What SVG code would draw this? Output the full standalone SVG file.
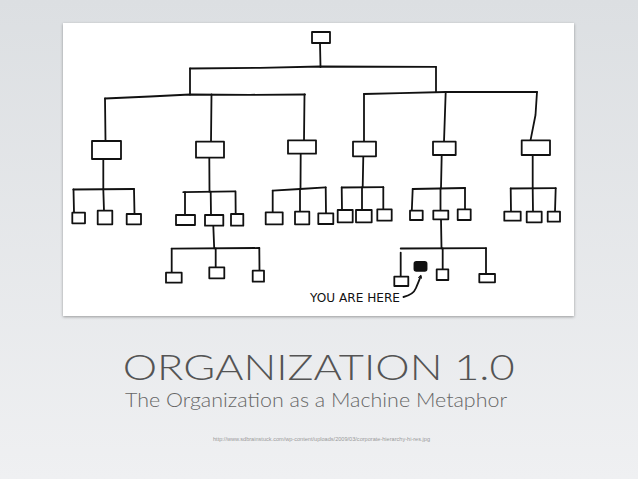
<svg xmlns="http://www.w3.org/2000/svg" width="638" height="479" viewBox="0 0 638 479">
<defs>
<linearGradient id="bg" x1="0" y1="0" x2="0" y2="1">
<stop offset="0" stop-color="#dcdfe2"/>
<stop offset="1" stop-color="#eff0f2"/>
</linearGradient>
<filter id="sh" x="-5%" y="-5%" width="110%" height="110%">
<feDropShadow dx="0" dy="1" stdDeviation="1.5" flood-color="#000" flood-opacity="0.35"/>
</filter>
<marker id="ah" viewBox="0 0 10 10" refX="5" refY="5" markerWidth="5" markerHeight="5" orient="auto-start-reverse" markerUnits="userSpaceOnUse">
<path d="M1,1 L8,5 L1,9" fill="none" stroke="#111" stroke-width="1.6"/>
</marker>
<style>
.ln{fill:none;stroke:#111;stroke-width:1.8;stroke-linecap:round;stroke-linejoin:round}
.bx{fill:#fff;stroke:#111;stroke-width:1.8;stroke-linejoin:round}
.fl{fill:#111;stroke:#111;stroke-width:1.5}
.ttl{font-family:Lato,"Open Sans","Liberation Sans",sans-serif;font-weight:300}
</style>
</defs>
<rect width="638" height="479" fill="url(#bg)"/>
<rect x="63" y="23" width="511" height="293" fill="#fff" filter="url(#sh)"/>

<g id="connectors">
<path class="ln" d="M320,43 L320.5,67"/>
<path class="ln" d="M190,68.5 L260,67.8 L320,66.5 L436,66.8"/>
<path class="ln" d="M190,68.5 L190,94.5"/>
<path class="ln" d="M436,67 L436,92"/>
<path class="ln" d="M105,98.5 L150,96.5 L190,94.5 L250,94.8 L305,94.5"/>
<path class="ln" d="M105,98.5 L105.5,141"/>
<path class="ln" d="M211.5,94.5 L211,141.7"/>
<path class="ln" d="M304.5,94.5 L304,140.3"/>
<path class="ln" d="M364,94 L400,93.2 L445.5,92 L537,92"/>
<path class="ln" d="M364,94 L364,141.7"/>
<path class="ln" d="M445.7,92 L444,141.7"/>
<path class="ln" d="M537,92 L535.5,115 L530.5,140.3"/>

<path class="ln" d="M103.3,159 L103.3,189.3"/>
<path class="ln" d="M73.3,189.5 L134,189"/>
<path class="ln" d="M73.5,189.5 L74,212.7"/>
<path class="ln" d="M103.3,189.3 L104,210.7"/>
<path class="ln" d="M134,189 L134.5,214"/>

<path class="ln" d="M209.3,157.7 L209.5,191.7"/>
<path class="ln" d="M183.3,192.2 L235,191.3"/>
<path class="ln" d="M185,192.2 L185,215"/>
<path class="ln" d="M210.7,191.7 L211,215"/>
<path class="ln" d="M235.5,191.3 L235.7,214"/>
<path class="ln" d="M213.3,225.7 L214.2,248.3"/>
<path class="ln" d="M171.7,248.6 L259.3,248"/>
<path class="ln" d="M171.7,248.6 L171.7,272.7"/>
<path class="ln" d="M215.7,248.3 L215.7,267.3"/>
<path class="ln" d="M259.3,248 L259.5,270.7"/>

<path class="ln" d="M300.7,153.7 L300.5,189"/>
<path class="ln" d="M272.7,190.7 L300,189 L325.7,187.3"/>
<path class="ln" d="M272.7,190.7 L272.7,212.3"/>
<path class="ln" d="M300,189 L300,211.7"/>
<path class="ln" d="M325.7,187.3 L326,213.3"/>

<path class="ln" d="M363.3,156.3 L362.7,187.3"/>
<path class="ln" d="M341.7,187.5 L383.3,187.2"/>
<path class="ln" d="M341.7,187.5 L342,210"/>
<path class="ln" d="M362,187.3 L362,210"/>
<path class="ln" d="M383.3,187.2 L383.3,209.3"/>

<path class="ln" d="M441.7,155 L441,188.3"/>
<path class="ln" d="M412.7,189 L465,188"/>
<path class="ln" d="M412.7,189 L411.8,210.7"/>
<path class="ln" d="M440.5,188.4 L440.5,210.7"/>
<path class="ln" d="M465,188 L465,209.3"/>
<path class="ln" d="M441,219.3 L441.5,248.3"/>
<path class="ln" d="M400.7,248.5 L486,248.2"/>
<path class="ln" d="M400.7,252.7 L400.7,276.7"/>
<path class="ln" d="M442.7,248.3 L442.7,269.3"/>
<path class="ln" d="M486,248.2 L486,274"/>

<path class="ln" d="M532.7,155 L532.7,188.3"/>
<path class="ln" d="M510.7,188.5 L555.7,188.2"/>
<path class="ln" d="M510.7,188.5 L511,211.7"/>
<path class="ln" d="M532.7,188.3 L533,211.7"/>
<path class="ln" d="M555.7,188.2 L555,211.7"/>

<path class="ln" d="M403.5,297 C410,295.5 414,293 416,288 C418,283 419.5,280 420.5,276.5" marker-end="url(#ah)"/>
</g>

<g id="n0"><rect class="bx" x="312" y="32" width="18" height="11"/></g>
<g id="n1"><rect class="bx" x="92" y="141" width="29" height="18"/></g>
<g id="n2"><rect class="bx" x="196" y="141.7" width="28" height="16"/></g>
<g id="n3"><rect class="bx" x="288" y="140.3" width="28" height="13.4"/></g>
<g id="n4"><rect class="bx" x="353" y="141.7" width="23" height="14.6"/></g>
<g id="n5"><rect class="bx" x="433" y="141.7" width="22.7" height="13.3"/></g>
<g id="n6"><rect class="bx" x="521.7" y="140.3" width="28.3" height="14.7"/></g>

<g id="n1a"><rect class="bx" x="72.3" y="212.7" width="12.7" height="10.6"/></g>
<g id="n1b"><rect class="bx" x="97.7" y="210.7" width="14.6" height="13.6"/></g>
<g id="n1c"><rect class="bx" x="126.7" y="214" width="14.3" height="10.3"/></g>

<g id="n2a"><rect class="bx" x="176" y="215" width="19" height="10"/></g>
<g id="n2b"><rect class="bx" x="205" y="215" width="18.3" height="10.7"/></g>
<g id="n2c"><rect class="bx" x="231" y="214" width="12.3" height="11.7"/></g>
<g id="n2b1"><rect class="bx" x="166" y="272.7" width="15.7" height="10"/></g>
<g id="n2b2"><rect class="bx" x="209.3" y="267.3" width="15" height="11"/></g>
<g id="n2b3"><rect class="bx" x="252.7" y="270.7" width="11.3" height="11"/></g>

<g id="n3a"><rect class="bx" x="265.7" y="212.3" width="17" height="12"/></g>
<g id="n3b"><rect class="bx" x="295" y="211.7" width="14.3" height="12.6"/></g>
<g id="n3c"><rect class="bx" x="318.3" y="213.3" width="15" height="10.7"/></g>

<g id="n4a"><rect class="bx" x="337.7" y="210" width="15" height="12.3"/></g>
<g id="n4b"><rect class="bx" x="356" y="210" width="15.7" height="12.3"/></g>
<g id="n4c"><rect class="bx" x="377.3" y="209.3" width="14.4" height="11.4"/></g>

<g id="n5a"><rect class="bx" x="410" y="210.7" width="12.7" height="9.3"/></g>
<g id="n5b"><rect class="bx" x="433.3" y="210.7" width="15" height="8.6"/></g>
<g id="n5c"><rect class="bx" x="457.7" y="209.3" width="13" height="10.7"/></g>
<g id="n5b1"><rect class="bx" x="394.3" y="276.7" width="14" height="9.3"/></g>
<g id="you"><rect class="fl" x="414.3" y="261.7" width="12.4" height="9.3" rx="2"/></g>
<g id="n5b2"><rect class="bx" x="436.7" y="269.3" width="11.6" height="10.7"/></g>
<g id="n5b3"><rect class="bx" x="479.3" y="274" width="15.7" height="8.3"/></g>

<g id="n6a"><rect class="bx" x="504.3" y="211.7" width="16.4" height="9"/></g>
<g id="n6b"><rect class="bx" x="526.7" y="211.7" width="15" height="10.6"/></g>
<g id="n6c"><rect class="bx" x="547.7" y="211.7" width="12.3" height="10"/></g>

<g id="label">
<text x="310" y="302" font-family="'DejaVu Sans',sans-serif" font-size="12" fill="#111" textLength="90" lengthAdjust="spacingAndGlyphs">YOU ARE HERE</text>
</g>

<text class="ttl" x="122.7" y="380" font-size="36" fill="#545454" textLength="392" lengthAdjust="spacingAndGlyphs">ORGANIZATION 1.0</text>
<text class="ttl" x="125" y="406.7" font-size="20" fill="#666" textLength="382" lengthAdjust="spacingAndGlyphs">The Organization as a Machine Metaphor</text>
<text x="213" y="441" font-family="'Liberation Sans',sans-serif" font-size="5.5" fill="#9a9a9a" textLength="217" lengthAdjust="spacingAndGlyphs">http://www.sdbrainstuck.com/wp-content/uploads/2009/03/corporate-hierarchy-hi-res.jpg</text>
</svg>
